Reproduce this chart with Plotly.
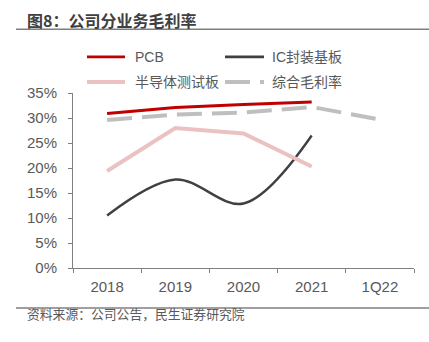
import plotly.graph_objects as go

categories = ["2018", "2019", "2020", "2021", "1Q22"]
pcb = [0.309, 0.321, 0.327, 0.332, None]
ic_sub = [0.105, 0.177, 0.129, 0.265, None]
semi_test = [0.194, 0.280, 0.269, 0.203, None]
overall = [0.296, 0.307, 0.311, 0.322, 0.297]
y_ticks = [0, 0.05, 0.10, 0.15, 0.20, 0.25, 0.30, 0.35]
y_tick_text = ["0%", "5%", "10%", "15%", "20%", "25%", "30%", "35%"]

W, H = 429, 342
L, R, T, B = 73, 15, 93, 74.3
PW = W - L - R
PH = H - T - B

def px(x):
    return (x - L) / PW

def py(y):
    return (H - B - y) / PH

FONT = "Liberation Sans, Arial, Noto Sans CJK SC, sans-serif"
TXT = "#595959"

fig = go.Figure()
fig.add_trace(go.Scatter(x=categories, y=pcb, mode="lines", name="PCB",
                         line=dict(color="#C00000", width=2.8)))
fig.add_trace(go.Scatter(x=categories, y=ic_sub, mode="lines", name="IC封装基板",
                         line=dict(color="#404040", width=2.4, shape="spline", smoothing=1)))
fig.add_trace(go.Scatter(x=categories, y=semi_test, mode="lines", name="半导体测试板",
                         line=dict(color="#EBC1C1", width=4)))
fig.add_trace(go.Scatter(x=categories, y=overall, mode="lines", name="综合毛利率",
                         line=dict(color="#BFBFBF", width=4, dash="25px,10px")))

shapes = []
annotations = []
# title & rules
annotations.append(dict(x=px(25), y=py(20), xref="paper", yref="paper", xanchor="left", yanchor="middle",
                        text="<b>图8：公司分业务毛利率</b>", showarrow=False,
                        font=dict(family="Noto Sans CJK SC", size=16, color="#404040")))
shapes.append(dict(type="line", xref="paper", yref="paper", x0=px(16), x1=px(429), y0=py(29.3), y1=py(29.3),
                   line=dict(color="#7F7F7F", width=1.5)))
shapes.append(dict(type="line", xref="paper", yref="paper", x0=px(16), x1=px(429), y0=py(307.7), y1=py(307.7),
                   line=dict(color="#7F7F7F", width=1.5)))
annotations.append(dict(x=px(25), y=py(313), xref="paper", yref="paper", xanchor="left", yanchor="middle",
                        text="资料来源：公司公告，民生证券研究院", showarrow=False,
                        font=dict(family="Noto Sans CJK SC", size=12.8, color=TXT)))

# legend (manual)
legend_items = [
    ("PCB", 87, 125, 133, 57, dict(color="#C00000", width=2.8)),
    ("IC封装基板", 225, 264, 270, 57, dict(color="#404040", width=2.8)),
    ("半导体测试板", 87, 125, 133, 82, dict(color="#EBC1C1", width=4)),
    ("综合毛利率", 225, 264, 270, 82, dict(color="#BFBFBF", width=4, dash="25px,10px")),
]
for name, x0, x1, xt, yy, ln in legend_items:
    shapes.append(dict(type="line", xref="paper", yref="paper", x0=px(x0), x1=px(x1), y0=py(yy), y1=py(yy), line=ln))
    annotations.append(dict(x=px(xt), y=py(yy), xref="paper", yref="paper", xanchor="left", yanchor="middle",
                            text=name, showarrow=False, font=dict(family=FONT, size=14, color=TXT)))

fig.update_layout(
    width=W, height=H, margin=dict(l=L, r=R, t=T, b=B, pad=0),
    paper_bgcolor="white", plot_bgcolor="white", showlegend=False,
    shapes=shapes, annotations=annotations,
    font=dict(family=FONT, color=TXT),
)
fig.update_xaxes(type="category", range=[-0.5, 4.5], showline=True, linecolor="#808080", linewidth=1,
                 ticks="outside", ticklen=4, tickcolor="#808080", tickson="boundaries",
                 showgrid=False, zeroline=False, ticklabelstandoff=5,
                 tickfont=dict(size=15, color=TXT, family=FONT))
fig.update_yaxes(range=[0, 0.35], tickvals=y_ticks, ticktext=y_tick_text, showline=True, linecolor="#808080",
                 linewidth=1, ticks="outside", ticklen=4, tickcolor="#808080", showgrid=False, zeroline=False,
                 ticklabelstandoff=8, tickfont=dict(size=15, color=TXT, family=FONT))

fig.write_html("out.html")
